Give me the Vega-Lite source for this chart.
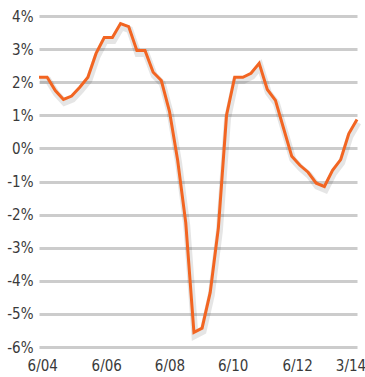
{
  "$schema": "https://vega.github.io/schema/vega-lite/v6.json",
  "width": 318,
  "height": 331,
  "autosize": "none",
  "padding": {"left": 39, "top": 16, "right": 8, "bottom": 30},
  "background": "white",
  "config": {"view": {"stroke": null}},
  "data": {"values": [
    {"i": 0, "v": 2.15}, {"i": 1, "v": 2.15}, {"i": 2, "v": 1.75}, {"i": 3, "v": 1.48},
    {"i": 4, "v": 1.58}, {"i": 5, "v": 1.85}, {"i": 6, "v": 2.15}, {"i": 7, "v": 2.87},
    {"i": 8, "v": 3.35}, {"i": 9, "v": 3.35}, {"i": 10, "v": 3.77}, {"i": 11, "v": 3.68},
    {"i": 12, "v": 2.96}, {"i": 13, "v": 2.96}, {"i": 14, "v": 2.3}, {"i": 15, "v": 2.05},
    {"i": 16, "v": 1.12}, {"i": 17, "v": -0.35}, {"i": 18, "v": -2.25}, {"i": 19, "v": -5.56},
    {"i": 20, "v": -5.43}, {"i": 21, "v": -4.35}, {"i": 22, "v": -2.4}, {"i": 23, "v": 1.0},
    {"i": 24, "v": 2.15}, {"i": 25, "v": 2.15}, {"i": 26, "v": 2.27}, {"i": 27, "v": 2.57},
    {"i": 28, "v": 1.78}, {"i": 29, "v": 1.45}, {"i": 30, "v": 0.6}, {"i": 31, "v": -0.24},
    {"i": 32, "v": -0.51}, {"i": 33, "v": -0.72}, {"i": 34, "v": -1.05}, {"i": 35, "v": -1.15},
    {"i": 36, "v": -0.66}, {"i": 37, "v": -0.34}, {"i": 38, "v": 0.45}, {"i": 39, "v": 0.87}
  ]},
  "encoding": {
    "x": {
      "field": "i", "type": "quantitative",
      "scale": {"domain": [0, 39], "nice": false, "zero": false},
      "axis": {
        "title": null, "grid": false, "domain": false, "ticks": false,
        "values": [0.4, 8.25, 16, 23.75, 31.65, 38.2],
        "labelExpr": "datum.value < 4 ? '6/04' : datum.value < 12 ? '6/06' : datum.value < 20 ? '6/08' : datum.value < 28 ? '6/10' : datum.value < 35 ? '6/12' : '3/14'",
        "labelFont": "Liberation Sans Narrow, DejaVu Sans Condensed, sans-serif",
        "labelFontSize": 15, "labelColor": "#3a3a3a", "labelPadding": 11,
        "labelFlush": false, "labelOverlap": false
      }
    },
    "y": {
      "field": "v", "type": "quantitative",
      "scale": {"domain": [-6, 4], "nice": false},
      "axis": {
        "title": null, "domain": false, "ticks": false,
        "values": [-6, -5, -4, -3, -2, -1, 0, 1, 2, 3, 4],
        "labelExpr": "datum.value + '%'",
        "labelFont": "Liberation Sans Narrow, DejaVu Sans Condensed, sans-serif",
        "labelFontSize": 15, "labelColor": "#3a3a3a", "labelPadding": 6,
        "grid": true, "gridColor": "#cccccc", "gridWidth": 3, "gridOpacity": 1
      }
    }
  },
  "layer": [
    {"mark": {"type": "line", "color": "#000000", "opacity": 0.1, "strokeWidth": 7, "yOffset": 3, "xOffset": 1}},
    {"mark": {"type": "line", "color": "#F26522", "strokeWidth": 3, "strokeJoin": "miter"}}
  ]
}
